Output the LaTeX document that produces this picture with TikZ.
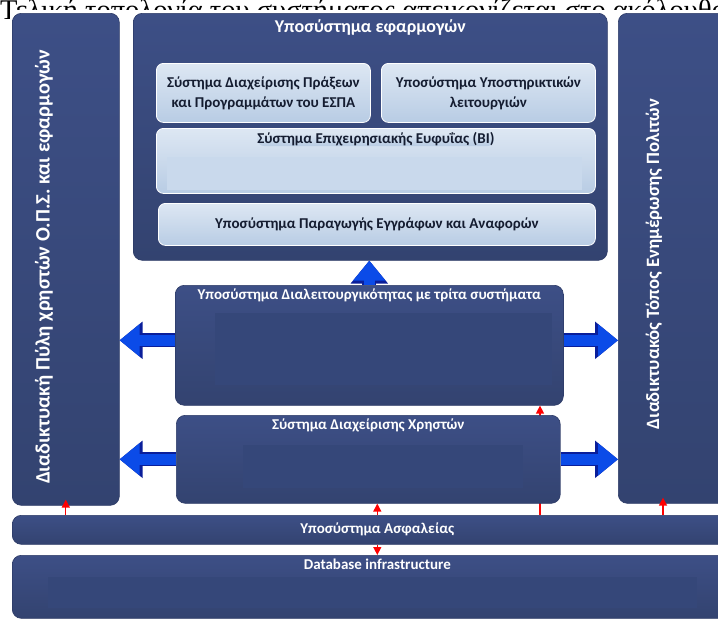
\documentclass[tikz,border=0pt]{standalone}
\usepackage{fontspec}
\usepackage{tikz}
\usetikzlibrary{arrows.meta}
\usetikzlibrary{positioning}
\usetikzlibrary{calc}
\newfontfamily\carlito{Carlito}
\newfontfamily\liberationserif{Liberation Serif}
\definecolor{navytop}{HTML}{3D4F86}
\definecolor{navybot}{HTML}{334370}
\definecolor{navyedge}{HTML}{2C3A66}
\definecolor{navyin}{HTML}{354779}
\definecolor{paletop}{HTML}{DDE7F3}
\definecolor{palebot}{HTML}{B8CCE4}
\definecolor{palein}{HTML}{C9D9EC}
\definecolor{ink}{HTML}{141C30}
\definecolor{arrowblue}{HTML}{0B4BE8}
\definecolor{arrowedge}{HTML}{0A1E9A}
\tikzset{navybox/.style = {rounded corners=9pt, top color=navytop, bottom color=navybot,
                           draw=navyedge, line width=0.6pt, inner sep=0pt, anchor=north west},
         palebox/.style = {rounded corners=7pt, top color=paletop, bottom color=palebot,
                           draw=white, line width=0.8pt, inner sep=0pt, anchor=north west,
                           text=ink, align=center,
                           font=\carlito\bfseries\fontsize{15}{20}\selectfont},
         boxtitle/.style = {text=white, inner sep=0pt,
                            font=\carlito\bfseries\fontsize{15}{18}\selectfont},
         sidetext/.style = {rotate=90, text=white, inner sep=0pt,
                            font=\carlito\bfseries\fontsize{20.5}{22}\selectfont},
         bluearrow/.style = {draw=arrowblue, line width=11pt,
                             -{Triangle[length=20pt, width=31pt]},
                             preaction={draw=arrowedge, line width=14pt,
                                        -{Triangle[length=23pt, width=36pt]}}},
         redarrow/.style = {draw=red, line width=1.3pt, -{Triangle[length=8pt, width=8pt]}}}

\begin{document}
\begin{tikzpicture}[x=1pt, y=-1pt]
      \useasboundingbox (0,0) rectangle (718,619);
      \clip (0,0) rectangle (718,619);
      \node [anchor=base west, inner sep=0pt, font=\liberationserif\fontsize{28.5}{30}\selectfont]
            (caption) at (0,19) {Τελική τοπολογία του συστήματος απεικονίζεται στο ακόλουθο};
      \fill [white] (10,10) rectangle (740,640);
      \node [navybox, minimum width=107pt, minimum height=492pt] (portal) at (12,13) {};
      \node [sidetext] (portal-text) at (44,267) {Διαδικτυακή Πύλη χρηστών Ο.Π.Σ. και εφαρμογών};
      \node [navybox, minimum width=130pt, minimum height=490pt] (site) at (618,13) {};
      \node [sidetext, font=\carlito\bfseries\fontsize{18.8}{20}\selectfont] (site-text) at (654,264)
            {Διαδικτυακός Τόπος Ενημέρωσης Πολιτών};
      \node [navybox, minimum width=474pt, minimum height=247pt] (apps) at (133,13) {};
      \node [boxtitle, font=\carlito\bfseries\fontsize{18}{20}\selectfont, below=6pt of apps.north]
            (apps-title) {Υποσύστημα εφαρμογών};
      \node [palebox, minimum width=214pt, minimum height=59pt] (espa) at (156,63)
            {Σύστημα Διαχείρισης Πράξεων\\και Προγραμμάτων του ΕΣΠΑ};
      \node [palebox, minimum width=214pt, minimum height=59pt] (support) at (381,63)
            {Υποσύστημα Υποστηρικτικών\\λειτουργιών};
      \node [palebox, minimum width=439pt, minimum height=65pt] (bi) at (156,128) {};
      \fill [palein] (167,157) rectangle (582,190);
      \node [palebox, draw=none, fill=none, below=4pt of bi.north] (bi-title)
            {Σύστημα Επιχειρησιακής Ευφυΐας (BI)};
      \node [palebox, minimum width=437pt, minimum height=42pt] (docs) at (158,203)
            {Υποσύστημα Παραγωγής Εγγράφων και Αναφορών};
      \node [navybox, minimum width=730pt, minimum height=29pt] (sec) at (12,515) {};
      \node [boxtitle] (sec-title) at (sec.center) {Υποσύστημα Ασφαλείας};
      \node [navybox, minimum width=730pt, minimum height=63pt] (db) at (12,555) {};
      \fill [navyin] (48,577) rectangle (697,608);
      \node [boxtitle, below=4pt of db.north] (db-title) {Database infrastructure};
      \node [navybox, minimum width=388pt, minimum height=120pt] (ops) at (175,285) {};
      \fill [navyin] (215,313) rectangle (552,385);
      \node [boxtitle, below=4pt of ops.north] (ops-title) {Υποσύστημα Διαλειτουργικότητας με τρίτα συστήματα};
      \coordinate (tap) at (540,0);
      \draw [redarrow] (sec.north -| tap) -- (ops.south -| tap);
      \node [navybox, minimum width=384pt, minimum height=88pt] (users) at (176,415) {};
      \fill [navyin] (243,445) rectangle (523,488);
      \node [boxtitle, below=4pt of users.north] (users-title) {Σύστημα Διαχείρισης Χρηστών};
      \draw [bluearrow] (ops.north) -- (ops.north |- apps.south);
      \draw [bluearrow] ([yshift=5pt]ops.west) -- ([yshift=5pt]ops.west -| portal.east);
      \draw [bluearrow] ([yshift=5pt]ops.east) -- ([yshift=5pt]ops.east -| site.west);
      \draw [bluearrow] (users.west) -- (users.west -| portal.east);
      \draw [bluearrow] (users.east) -- (users.east -| site.west);
      \coordinate (site-foot) at (663,0);
      \draw [redarrow] (sec.north -| portal.south) -- ([yshift=6pt]portal.south);
      \draw [redarrow] (sec.north -| sec.south) -- (users.south -| sec.south);
      \draw [redarrow] (sec.north -| site-foot) -- ([yshift=6pt]site.south -| site-foot);
      \draw [redarrow] (sec.south) -- (sec.south |- db.north);
    \end{tikzpicture}
\end{document}
